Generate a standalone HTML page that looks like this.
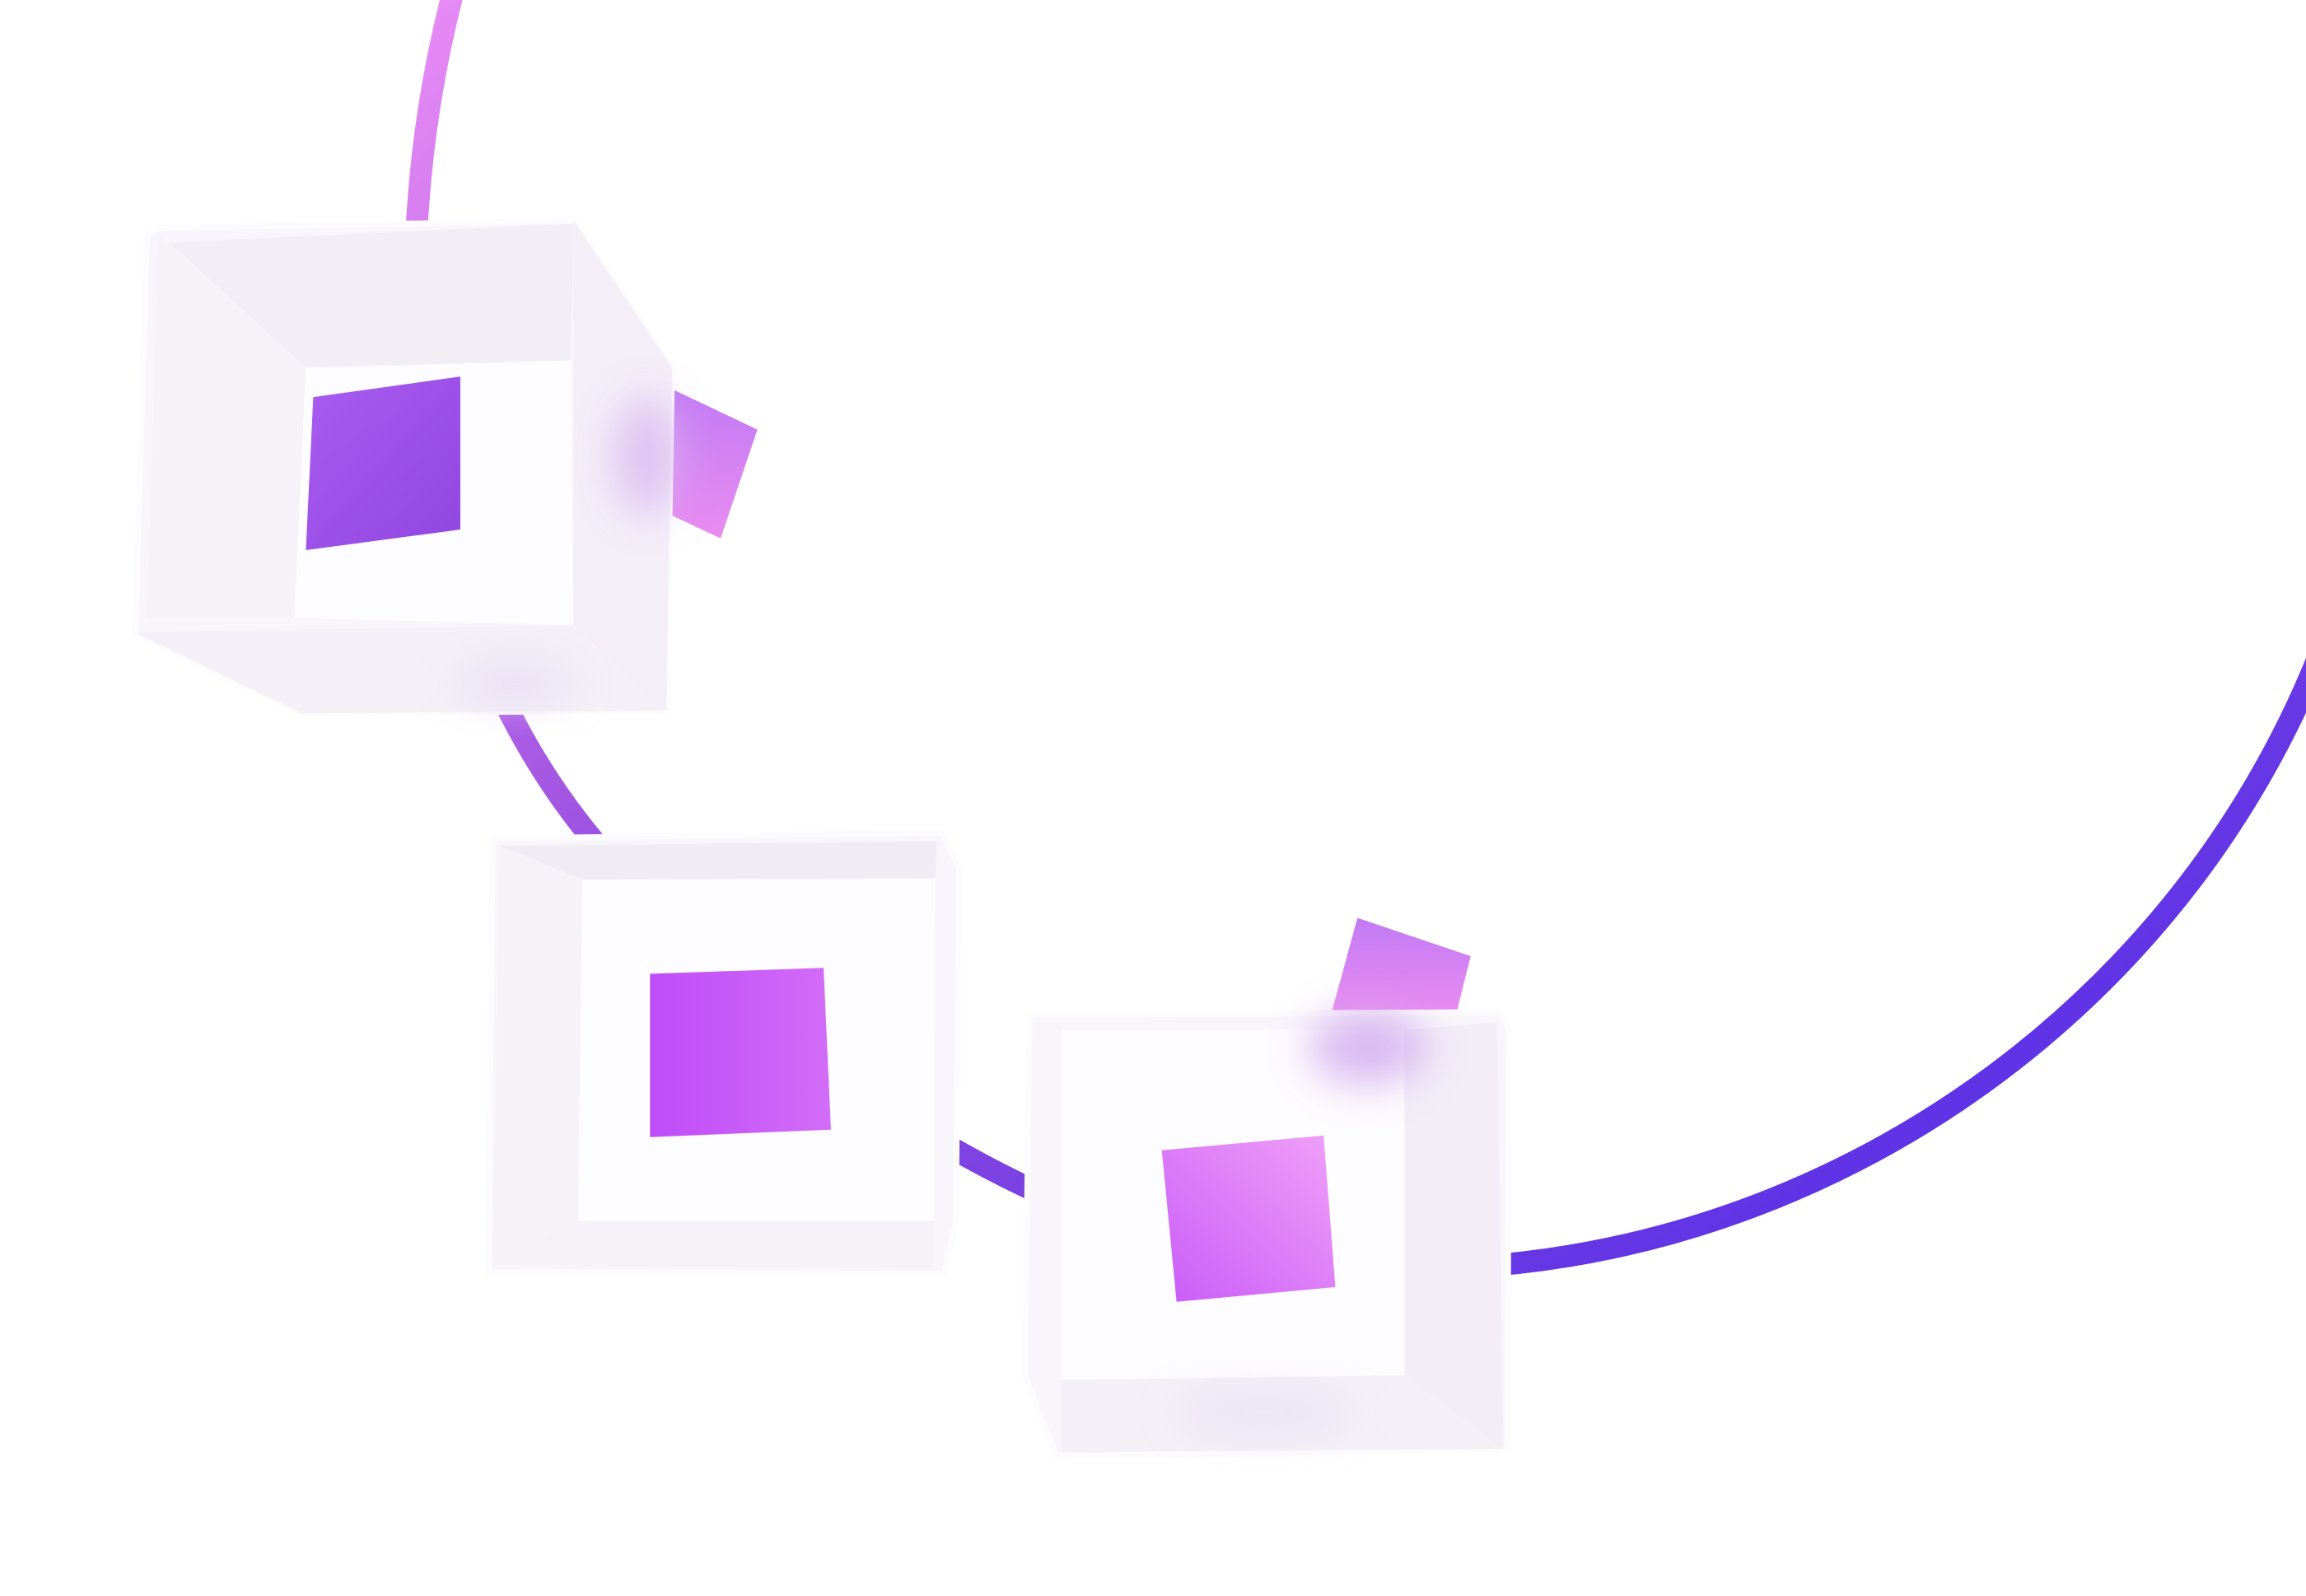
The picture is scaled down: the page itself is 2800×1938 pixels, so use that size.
<!DOCTYPE html>
<html><head><meta charset="utf-8"><style>
html,body{margin:0;padding:0;background:#fff;}
svg{display:block;width:2800px;height:1938px;}
</style></head><body>
<svg viewBox="0 0 1568 1085" preserveAspectRatio="none" xmlns="http://www.w3.org/2000/svg">
<defs>
<linearGradient id="arc" x1="0" y1="0" x2="1" y2="1">
<stop offset="0" stop-color="#e88cf5"/><stop offset="0.4" stop-color="#9a4fe0"/><stop offset="1" stop-color="#4a2ae8"/></linearGradient>
<linearGradient id="p1" x1="0" y1="0" x2="1" y2="1"><stop offset="0" stop-color="#a95cf0"/><stop offset="1" stop-color="#9046e0"/></linearGradient>
<linearGradient id="p2" x1="0" y1="0" x2="1" y2="0"><stop offset="0" stop-color="#bf4cf8"/><stop offset="1" stop-color="#d36cf8"/></linearGradient>
<linearGradient id="p3" x1="0" y1="1" x2="1" y2="0"><stop offset="0" stop-color="#c95cf8"/><stop offset="1" stop-color="#f0a0f8"/></linearGradient>
<linearGradient id="pk" x1="0" y1="0" x2="0" y2="1"><stop offset="0" stop-color="#c27af5"/><stop offset="1" stop-color="#e98cf0"/></linearGradient>
<filter id="bl" x="-100%" y="-100%" width="300%" height="300%"><feGaussianBlur stdDeviation="14"/></filter>
</defs>
<path d="M308 -5 C255 200, 280 440, 420 590 C520 700, 600 760, 700 808 C1050 960, 1440 780, 1575 450" fill="none" stroke="url(#arc)" stroke-width="15"/>
<polygon points="458,265 515,292 490,366 456,350" fill="url(#pk)"/>
<polygon points="923,624 1000,650 990,690 905,690" fill="url(#pk)"/>
<!-- cube 1 -->
<g>
<polygon points="108,155 390,150 457,250 453,483 205,485 92,430 100,160" fill="#f8f5fb" stroke="#fcfbfe" stroke-width="4"/>
<polygon points="115,165 390,152 388,245 208,250" fill="#f1eef5"/>
<polygon points="108,160 208,250 200,420 100,420" fill="#f5f2f8"/>
<polygon points="390,150 457,250 453,483 390,425" fill="#f3eef8"/>
<polygon points="92,430 390,425 453,483 205,485" fill="#f3f0f7"/>
<polygon points="208,250 388,245 390,425 200,420" fill="#fdfcfe"/>
<ellipse cx="440" cy="310" rx="22" ry="40" fill="#d9b6f0" filter="url(#bl)" opacity="0.8"/>
<ellipse cx="350" cy="465" rx="40" ry="12" fill="#e4d4f2" filter="url(#bl)" opacity="0.7"/>
<polygon points="213,270 313,256 313,360 208,374" fill="url(#p1)"/>
</g>
<!-- cube 2 -->
<g>
<polygon points="336,570 640,566 652,590 650,830 642,866 332,865 335,575" fill="#f8f6fb" stroke="#fcfbfe" stroke-width="4"/>
<polygon points="340,575 637,572 636,597 396,598" fill="#efecf4"/>
<polygon points="340,575 396,598 393,830 335,860" fill="#f5f2f8"/>
<polygon points="335,860 393,830 635,830 635,862" fill="#f4f1f7"/>
<polygon points="396,598 636,597 635,830 393,830" fill="#fdfcfe"/>
<polygon points="442,662 560,658 565,768 442,773" fill="url(#p2)"/>
</g>
<!-- cube 3 -->
<g>
<polygon points="700,690 1020,688 1026,700 1025,985 718,990 697,935" fill="#f8f6fb" stroke="#fcfbfe" stroke-width="4"/>
<polygon points="955,700 1018,695 1022,985 955,935" fill="#f2edf7"/>
<polygon points="722,938 955,935 1022,985 722,987" fill="#f3f0f7"/>
<polygon points="722,700 955,700 955,935 722,938" fill="#fdfcfe"/>
<ellipse cx="930" cy="712" rx="40" ry="25" fill="#d0a6ee" filter="url(#bl)" opacity="0.8"/>
<ellipse cx="860" cy="960" rx="60" ry="12" fill="#e6daf2" filter="url(#bl)" opacity="0.7"/>
<polygon points="790,782 900,772 908,875 800,885" fill="url(#p3)"/>
</g>
</svg>
</body></html>
